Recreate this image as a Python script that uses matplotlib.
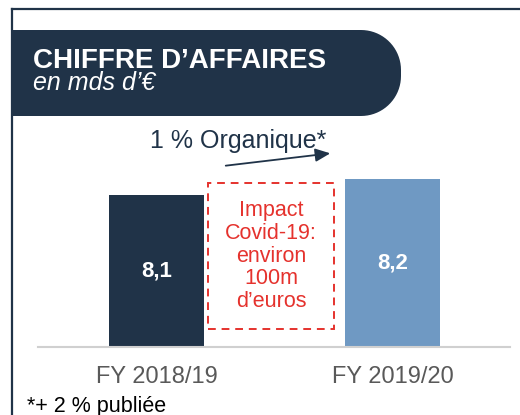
import matplotlib.pyplot as plt
import numpy as np
from matplotlib.patches import Polygon, Rectangle

# chart data
categories = ['FY 2018/19', 'FY 2019/20']
revenue = [8.1, 8.2]
value_labels = ['8,1', '8,2']
bar_colors = ['#203348', '#6f99c3']

plt.rcParams['font.family'] = ['Liberation Sans', 'DejaVu Sans']

W, H = 520, 415
fig = plt.figure(figsize=(W / 100, H / 100), dpi=100, facecolor='white')

def fx(px):
    return px / W

def fy(py):
    return 1 - py / H

navy = '#203348'

# outer frame (cut off at right and bottom)
fig.add_artist(plt.Line2D([fx(12), 1.0], [fy(9.5), fy(9.5)], color=navy, lw=1.6,
                          transform=fig.transFigure))
fig.add_artist(plt.Line2D([fx(12), fx(12)], [fy(9.5), 0.0], color=navy, lw=1.6,
                          transform=fig.transFigure))

# title banner with rounded right end
r = 40
x0, x1, y0, y1 = 12, 401, 30, 116
t1 = np.linspace(np.pi / 2, 0, 20)
t2 = np.linspace(0, -np.pi / 2, 20)
pts = [(x0, y0)]
pts += [(x1 - r + r * np.cos(t), y0 + r - r * np.sin(t)) for t in t1]
pts += [(x1 - r + r * np.cos(t), y1 - r - r * np.sin(t)) for t in t2]
pts += [(x0, y1)]
pts = [(fx(a), fy(b)) for a, b in pts]
fig.add_artist(Polygon(pts, closed=True, facecolor=navy, edgecolor='none',
                       transform=fig.transFigure))
fig.text(fx(33), fy(68), 'CHIFFRE D\u2019AFFAIRES', color='white', fontsize=20,
         fontweight='bold', ha='left', va='baseline')
fig.text(fx(33), fy(90), 'en mds d\u2019\u20ac', color='white', fontsize=18,
         fontstyle='italic', ha='left', va='baseline')

# bar axes
ax = fig.add_axes([fx(38), fy(347), fx(510) - fx(38), fy(120) - fy(347)])
ymin = 7.15
x = np.arange(len(categories))
ax.bar(x, revenue, width=0.4025, color=bar_colors, bottom=0)
ax.set_xlim(-0.502, 1.498)
ax.set_ylim(ymin, ymin + 227 / 160)
for xi, v, lab in zip(x, revenue, value_labels):
    ax.text(xi, (v + ymin) / 2, lab, color='white', fontsize=16, fontweight='bold',
            ha='center', va='center')

for s in ['top', 'right', 'left']:
    ax.spines[s].set_visible(False)
ax.spines['bottom'].set_color('#d0d0d0')
ax.spines['bottom'].set_linewidth(1.5)
ax.set_yticks([])
ax.set_xticks(x)
ax.set_xticklabels(categories, fontsize=17, color='#595959')
ax.tick_params(axis='x', length=0, pad=14)
ax.patch.set_alpha(0)

# organic growth arrow
fig.text(fx(150), fy(148), '1 % Organique*', color=navy, fontsize=18,
         ha='left', va='baseline')
ax.annotate('', xy=(fx(333), fy(153)), xytext=(fx(223), fy(166)),
            xycoords='figure fraction', textcoords='figure fraction',
            arrowprops=dict(arrowstyle='-|>,head_length=0.9,head_width=0.4',
                            color=navy, lw=1.3))

# covid impact box
red = '#e5322d'
fig.add_artist(Rectangle((fx(208), fy(329)), fx(334) - fx(208), fy(183) - fy(329),
                         fill=False, edgecolor=red, lw=1.4, ls=(0, (4, 3)),
                         transform=fig.transFigure))
fig.text(fx(271), fy(256), 'Impact\nCovid-19:\nenviron\n100m\nd\u2019euros', color=red,
         fontsize=15.5, ha='center', va='center', linespacing=1.12)

# footnote
fig.text(fx(27), fy(412), '*+ 2 % publi\u00e9e', color='black', fontsize=15.5,
         ha='left', va='baseline')

fig.savefig('out.png', dpi=100, facecolor='white')
